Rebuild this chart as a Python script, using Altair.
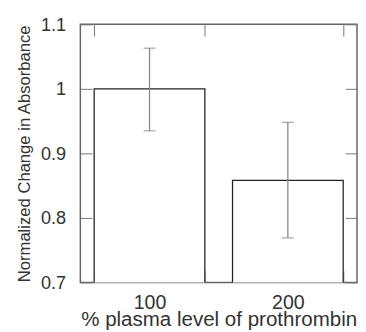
import altair as alt
import pandas as pd

levels = ["100", "200"]
means = [1.0, 0.858]
err_low = [0.935, 0.769]
err_high = [1.063, 0.948]
y_ticks = [0.7, 0.8, 0.9, 1.0, 1.1]

df = pd.DataFrame({"level": levels, "mean": means, "lo": err_low, "hi": err_high})

W, H = 283, 264
FONT = "Liberation Sans"
xscale = alt.Scale(paddingInner=0.2, paddingOuter=0.1)
yscale = alt.Scale(domain=[0.7, 1.1], nice=False, zero=False)

base = alt.Chart(df)

bars = base.mark_bar(fill="white", stroke="#222", strokeWidth=1.3, clip=True).encode(
    x=alt.X("level:N", scale=xscale, sort=levels,
            axis=alt.Axis(orient="bottom", offset=-12, tickSize=12, tickBand="extent",
                          domain=False, labelAngle=0, labelPadding=11, labelFontSize=20,
                          labelFont=FONT, labelColor="#333", tickColor="#777",
                          title="% plasma level of prothrombin", titleFontSize=21,
                          titleFont=FONT, titleColor="#333", titleFontWeight="normal",
                          titlePadding=-4)),
    y=alt.Y("mean:Q", scale=yscale,
            axis=alt.Axis(orient="left", offset=-12, tickSize=12, domain=False,
                          values=y_ticks, format="~g", labelPadding=15, labelFontSize=18.5,
                          labelFont=FONT, labelColor="#333", tickColor="#777",
                          title="Normalized Change in Absorbance", titleFontSize=17,
                          titleFont=FONT, titleColor="#333", titleFontWeight="normal",
                          titlePadding=7)),
)

err = base.mark_rule(color="#888", strokeWidth=1.3).encode(
    x=alt.X("level:N", scale=xscale, sort=levels,
            axis=alt.Axis(orient="top", offset=-12, tickSize=12, tickBand="extent",
                          domain=False, labels=False, tickColor="#777", title=None)),
    y=alt.Y("lo:Q", scale=yscale,
            axis=alt.Axis(orient="right", offset=-12, tickSize=12, domain=False,
                          values=y_ticks, labels=False, tickColor="#777", title=None)),
    y2="hi:Q",
)

cap_lo = base.mark_tick(color="#888", size=12, thickness=1.3, orient="horizontal").encode(
    x=alt.X("level:N", scale=xscale, sort=levels, axis=None),
    y=alt.Y("lo:Q", scale=yscale, axis=None),
)
cap_hi = base.mark_tick(color="#888", size=12, thickness=1.3, orient="horizontal").encode(
    x=alt.X("level:N", scale=xscale, sort=levels, axis=None),
    y=alt.Y("hi:Q", scale=yscale, axis=None),
)

chart = alt.layer(bars, err, cap_lo, cap_hi).resolve_axis(
    x="independent", y="independent"
).properties(
    width=W, height=H,
    autosize=alt.AutoSizeParams(type="none"),
    padding={"left": 74, "top": 13, "right": 1, "bottom": 47},
).configure_view(stroke="#666", strokeWidth=1.5).configure_axis(grid=False)

chart.save("out.html", embed_options={"renderer": "svg", "actions": False})
